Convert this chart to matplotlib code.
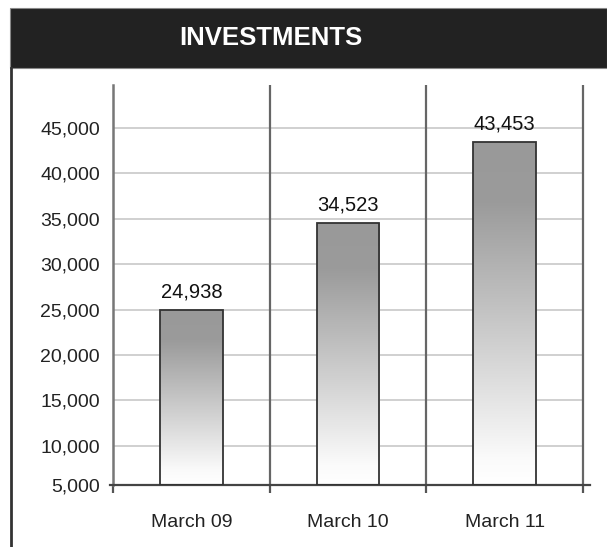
import numpy as np
import matplotlib
matplotlib.use("Agg")
import matplotlib.pyplot as plt
from matplotlib.patches import Rectangle

plt.rcParams["font.family"] = ["Liberation Sans", "DejaVu Sans"]

# data
title = "INVESTMENTS"
categories = ["March 09", "March 10", "March 11"]
values = [24938, 34523, 43453]
y_ticks = [5000, 10000, 15000, 20000, 25000, 30000, 35000, 40000, 45000]
y_min, y_max = 5726, 49740

fig = plt.figure(figsize=(6.07, 5.47), dpi=100)
W, H = 607, 547

# frame: title band and left border
fig.patches.append(Rectangle((10 / W, 1 - 68 / H), 1 - 10 / W, 60 / H,
                             transform=fig.transFigure, facecolor="#222222",
                             edgecolor="#888888", linewidth=0.8))
fig.lines.append(plt.Line2D([11 / W, 11 / W], [0, 1 - 68 / H],
                            transform=fig.transFigure, color="#333333", lw=2))
fig.text(271 / W, 1 - 38 / H, title, color="white", fontsize=18.5,
         fontweight="bold", ha="center", va="center")

ax = fig.add_axes([110 / W, 1 - 484.5 / H, 480 / W, 399.5 / H])
x = np.arange(len(categories))

# horizontal gridlines
grid_y = [t for t in y_ticks if t > y_min]
ax.hlines(grid_y, -0.5, 2.5, color="#c8c8c8", lw=1.2, zorder=1)
# category separators
for b in [0.5, 1.5, 2.5]:
    ax.axvline(b, color="#666666", lw=1.6, zorder=1)

# gradient bars
bar_w = 0.4
grad = np.linspace(0, 1, 256).reshape(-1, 1)
cmap = matplotlib.colors.LinearSegmentedColormap.from_list(
    "g", [(0, "#ffffff"), (0.07, "#fbfbfb"), (0.82, "#9b9b9b"), (1, "#999999")],
    N=256)
for xi, v in zip(x, values):
    rect = Rectangle((xi - bar_w / 2, y_min), bar_w, v - y_min,
                     facecolor="none", edgecolor="#333333", lw=1.3, zorder=3)
    ax.add_patch(rect)
    im = ax.imshow(grad, extent=(xi - bar_w / 2, xi + bar_w / 2, y_min, v),
                   origin="lower", aspect="auto", cmap=cmap, zorder=2)
    im.set_clip_path(rect)
    ax.annotate(f"{v:,}", (xi, v), xytext=(0, 6), textcoords="offset points",
                ha="center", va="bottom", fontsize=14.5, color="#111111")
ax.set_xlim(-0.5 - 3 / 156.7, 2.5 + 7 / 156.7)
ax.set_ylim(y_min, y_max)

# axes styling
for s in ["top", "right"]:
    ax.spines[s].set_visible(False)
ax.spines["left"].set_position(("data", -0.5))
ax.spines["left"].set_color("#777777")
ax.spines["left"].set_linewidth(1.8)
ax.spines["bottom"].set_color("#444444")
ax.spines["bottom"].set_linewidth(1.6)

tick_pos = [max(t, y_min) for t in y_ticks]
ax.set_yticks(tick_pos)
ax.set_yticklabels([f"{t:,}" for t in y_ticks])
ax.tick_params(axis="y", length=0, pad=9.5, labelsize=14, labelcolor="#222222")

ax.set_xticks(x)
ax.set_xticklabels(categories)
ax.set_xticks([-0.5, 0.5, 1.5, 2.5], minor=True)
ax.tick_params(axis="x", which="major", length=0, pad=21, labelsize=14,
               labelcolor="#222222")
ax.tick_params(axis="x", which="minor", length=6, width=1.6, color="#555555",
               direction="out")

fig.savefig("out.png", dpi=100)
